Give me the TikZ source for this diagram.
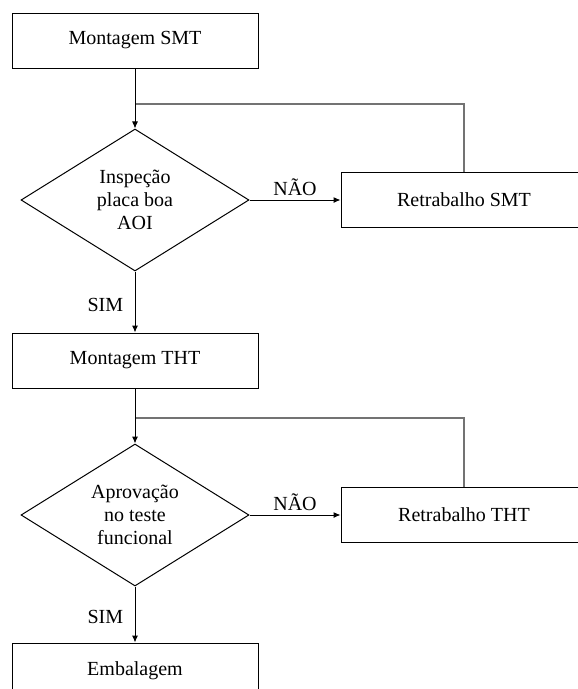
\documentclass[tikz,border=0pt]{standalone}
\usepackage{fontspec}
\setmainfont{Liberation Serif}
\usetikzlibrary{arrows.meta,positioning,shapes.geometric}

\begin{document}
\begin{tikzpicture}[->,>={Latex[length=7pt,width=6pt]}
  ,x=1pt,y=1pt
  ,auto
  ,line width=1pt
  ,font=\fontsize{20}{23}\selectfont]
  \tikzstyle{etapa}=[draw,rectangle,
  minimum width=246pt,minimum height=55pt,inner sep=0pt]
  \tikzstyle{decisao}=[draw,diamond,aspect=1.6,
  minimum width=228pt,minimum height=142pt,inner sep=0pt,align=center]
  \tikzstyle{retorno}=[-,draw=black!55,line width=2pt]

  \useasboundingbox (0,0) rectangle (578,-689);

  % coluna principal
  \node[etapa](smt) at (135,-40.5) {Montagem SMT};
  \node[decisao,below=60pt of smt](insp) {Inspeção\\placa boa\\AOI};
  \node[etapa,below=61pt of insp](tht) {Montagem THT};
  \node[decisao,below=55pt of tht](aprov) {Aprovação\\no teste\\funcional};
  \node[etapa,below=56pt of aprov](emb) {Embalagem};
  % retrabalhos a direita
  \node[etapa,right=91pt of insp](rsmt) {Retrabalho SMT};
  \node[etapa,right=91pt of aprov](rtht) {Retrabalho THT};

  \coordinate[below=35pt of smt](j1);
  \coordinate[below=29pt of tht](j2);

  % voltas do retrabalho
  \draw[retorno] (rsmt) |- (j1);
  \draw[retorno] (rtht) |- (j2);

  \path
  (smt) edge (insp)
  (insp) edge node[left=8pt,pos=0.55] {SIM} (tht)
  (insp) edge node {NÃO} (rsmt)
  (tht) edge (aprov)
  (aprov) edge node[left=8pt,pos=0.55] {SIM} (emb)
  (aprov) edge node {NÃO} (rtht);

\end{tikzpicture}
\end{document}
